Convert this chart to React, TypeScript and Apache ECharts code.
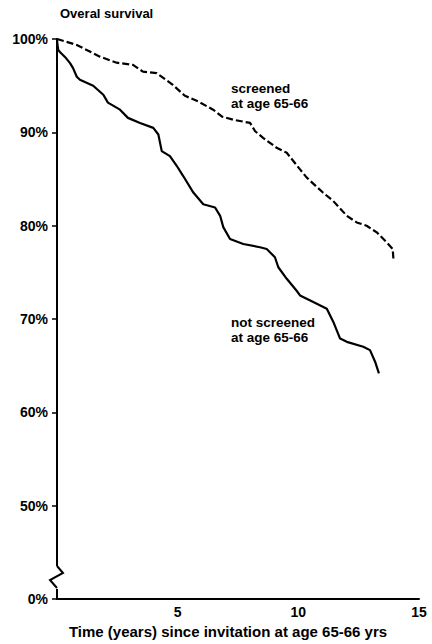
import React, { useEffect, useRef } from "react";
import * as echarts from "echarts";

// Time in years since invitation
const screenedX = [0, 0.82, 1.78, 2.47, 3.15, 3.56, 4.13, 4.77, 5.3, 5.84, 6.47, 6.84, 7.29, 8.0, 8.21, 8.54, 9.1, 9.52, 10.07, 10.35, 11.02, 11.44, 12.01, 12.42, 12.83, 13.25, 13.66, 13.91, 13.94];
const screenedY = [100, 99.36, 98.11, 97.46, 97.23, 96.51, 96.34, 95.15, 93.92, 93.32, 92.43, 91.68, 91.36, 91.01, 90.12, 89.41, 88.35, 87.81, 86.03, 85.15, 83.55, 82.66, 81.06, 80.35, 79.99, 79.29, 78.22, 77.51, 76.44];

const notScreenedX = [0, 0.02, 0.05, 0.12, 0.33, 0.54, 0.66, 0.82, 0.95, 1.5, 1.92, 2.11, 2.61, 2.94, 3.44, 3.99, 4.2, 4.34, 4.68, 4.96, 5.23, 5.65, 6.06, 6.55, 6.76, 6.89, 7.17, 7.72, 8.41, 8.69, 9.03, 9.17, 9.52, 9.93, 10.07, 10.62, 11.18, 11.45, 11.73, 12.01, 12.69, 12.97, 13.18, 13.34];
const notScreenedY = [100, 99.36, 98.83, 98.61, 98.08, 97.41, 96.91, 95.95, 95.63, 94.99, 94.03, 93.18, 92.43, 91.55, 91.01, 90.48, 89.77, 87.99, 87.45, 86.42, 85.32, 83.55, 82.3, 81.95, 81.06, 79.85, 78.57, 78.04, 77.69, 77.51, 76.62, 75.55, 74.31, 73.03, 72.53, 71.82, 71.11, 69.69, 67.91, 67.56, 67.03, 66.67, 65.43, 64.18];

// Axis: the broken y axis maps its bottom (40) to "0%"
const yTickValues = [40, 50, 60, 70, 80, 90, 100];
const yTickLabels = ["0%", "50%", "60%", "70%", "80%", "90%", "100%"];
const xTickLabels = ["", "5", "10", "15"];

const FONT = "'Liberation Sans', Arial, Helvetica, sans-serif";

export default function App() {
  const ref = useRef<HTMLDivElement>(null);
  useEffect(() => {
    if (!ref.current) return;
    const chart = echarts.init(ref.current, null, { renderer: "svg" });
    const zip = (xs: number[], ys: number[]) => xs.map((x, i) => [x, ys[i]]);
    chart.setOption({
      animation: false,
      backgroundColor: "#ffffff",
      textStyle: { fontFamily: FONT },
      grid: { left: 57, top: 39, width: 362, height: 563 },
      xAxis: {
        type: "value",
        min: 0,
        max: 15,
        interval: 5,
        name: "Time (years) since invitation at age 65-66 yrs",
        nameLocation: "middle",
        nameGap: 19,
        nameTextStyle: {
          color: "#000",
          fontSize: 15,
          fontWeight: "bold",
          fontFamily: FONT,
          padding: [0, 20, 0, 0],
        },
        axisLine: { show: true, lineStyle: { color: "#000", width: 2 } },
        axisTick: { show: false },
        splitLine: { show: false },
        axisLabel: {
          color: "#000",
          fontSize: 14,
          fontWeight: "bold",
          fontFamily: FONT,
          margin: 6,
          formatter: (v: number) => xTickLabels[Math.round(v / 5)] ?? "",
        },
      },
      yAxis: {
        type: "value",
        min: 40,
        max: 100,
        interval: 10,
        axisLine: { show: true, lineStyle: { color: "#000", width: 2 } },
        axisTick: { show: true, inside: false, length: 5, lineStyle: { color: "#000", width: 1.5 } },
        splitLine: { show: false },
        axisLabel: {
          color: "#000",
          fontSize: 14,
          fontWeight: "bold",
          fontFamily: FONT,
          margin: 9,
          formatter: (v: number) => {
            const i = yTickValues.indexOf(Math.round(v));
            return i >= 0 ? yTickLabels[i] : "";
          },
        },
      },
      series: [
        {
          name: "screened at age 65-66",
          type: "line",
          data: zip(screenedX, screenedY),
          showSymbol: false,
          smooth: false,
          lineStyle: { color: "#000", width: 2.2, type: [7, 3] },
          z: 3,
        },
        {
          name: "not screened at age 65-66",
          type: "line",
          data: zip(notScreenedX, notScreenedY),
          showSymbol: false,
          smooth: false,
          lineStyle: { color: "#000", width: 2.2 },
          z: 3,
        },
      ],
      graphic: [
        {
          type: "text",
          left: 60,
          top: 7,
          style: { text: "Overal survival", fill: "#000", font: `bold 13px ${FONT}` },
        },
        {
          type: "text",
          left: 231,
          top: 81,
          style: {
            text: "screened\nat age 65-66",
            fill: "#000",
            font: `bold 13.5px ${FONT}`,
            lineHeight: 15,
          },
        },
        {
          type: "text",
          left: 231,
          top: 315,
          style: {
            text: "not screened\nat age 65-66",
            fill: "#000",
            font: `bold 13.5px ${FONT}`,
            lineHeight: 15,
          },
        },
        {
          type: "rect",
          shape: { x: 54, y: 566, width: 6, height: 23 },
          style: { fill: "#fff" },
          z: 50,
        },
        {
          type: "polyline",
          shape: { points: [[57, 566], [63, 573], [50, 580], [57, 588]] },
          style: { stroke: "#000", lineWidth: 2, fill: null },
          z: 51,
        },
      ],
    });
    return () => chart.dispose();
  }, []);
  return (
    <div
      ref={ref}
      style={{ position: "fixed", left: 0, top: 0, width: 432, height: 644, background: "#fff" }}
    />
  );
}
